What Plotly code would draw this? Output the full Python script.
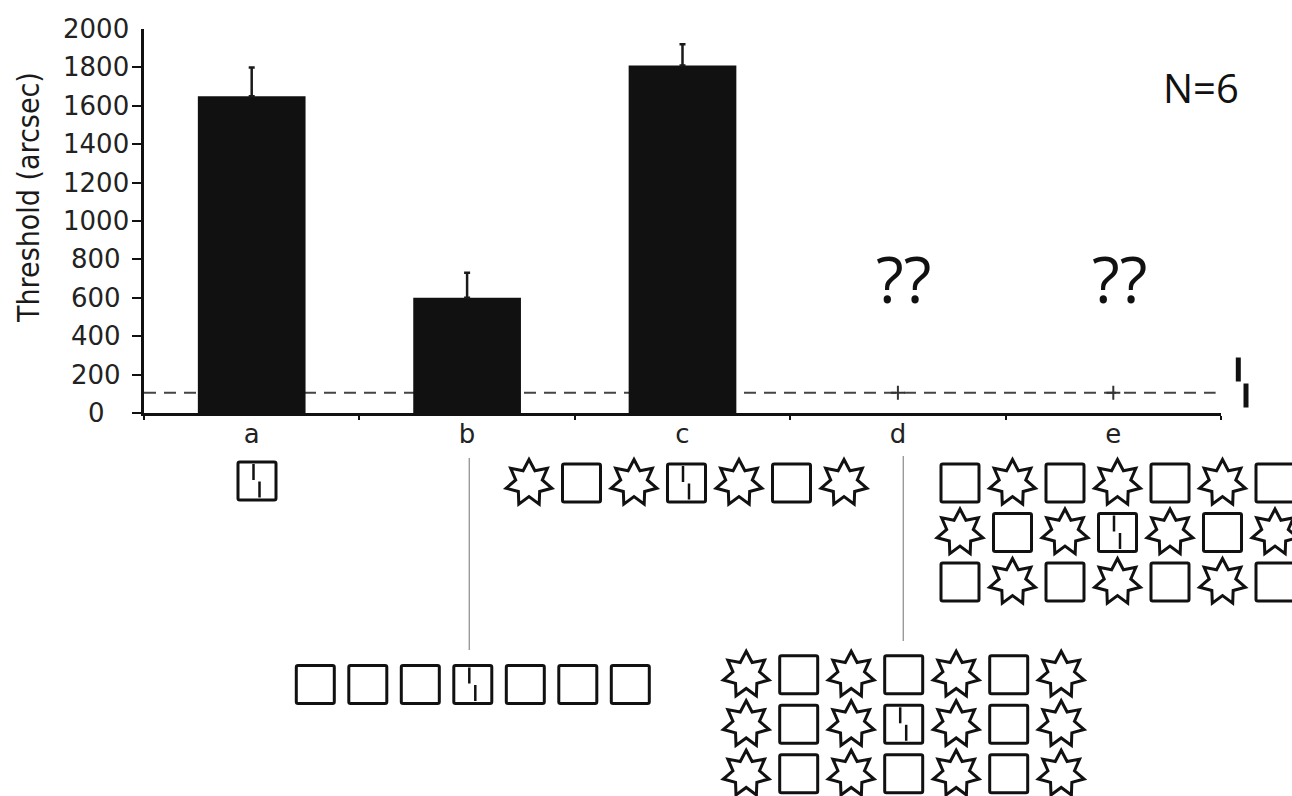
import plotly.graph_objects as go
import math

# ---- data -------------------------------------------------------------
categories = ["a", "b", "c", "d", "e"]
threshold = [1650, 600, 1810, None, None]        # arcsec
threshold_err = [150, 130, 110, None, None]      # upper error (arcsec)
untested = ["d", "e"]
reference_level = 105                            # vernier alone, dashed line
y_tick_values = [0, 200, 400, 600, 800, 1000, 1200, 1400, 1600, 1800, 2000]
y_tick_marks = y_tick_values[:-1]

# ---- figure geometry (pixels) ------------------------------------------
W, H = 1292, 796
ML, MR, MT, MB = 144, 71, 29, 383
PW = W - ML - MR
PH = H - MT - MB
INK = "#111111"


def paper(x, y):
    """pixel position -> paper coordinates"""
    return (x - ML) / PW, (H - MB - y) / PH


def path_from(points, closed=True):
    parts = []
    for i, (x, y) in enumerate(points):
        px, py = paper(x, y)
        parts.append(("M" if i == 0 else "L") + f"{px:.5f},{py:.5f}")
    return " ".join(parts) + (" Z" if closed else "")


def square_shape(cx, cy, s=38, r=1.8):
    h = s / 2
    x0, x1, y0, y1 = cx - h, cx + h, cy - h, cy + h

    def p(x, y):
        a, b = paper(x, y)
        return f"{a:.5f},{b:.5f}"

    d = (f"M{p(x0 + r, y0)} L{p(x1 - r, y0)} Q{p(x1, y0)} {p(x1, y0 + r)} "
         f"L{p(x1, y1 - r)} Q{p(x1, y1)} {p(x1 - r, y1)} L{p(x0 + r, y1)} "
         f"Q{p(x0, y1)} {p(x0, y1 - r)} L{p(x0, y0 + r)} Q{p(x0, y0)} {p(x0 + r, y0)} Z")
    return dict(type="path", xref="paper", yref="paper", path=d,
                line=dict(color=INK, width=3), fillcolor="rgba(0,0,0,0)")


def star_shape(cx, cy, R=23.5, ratio=0.58):
    pts = []
    for k in range(14):
        ang = -math.pi / 2 + k * math.pi / 7
        rr = R if k % 2 == 0 else R * ratio
        pts.append((cx + rr * math.cos(ang), cy + rr * math.sin(ang)))
    return dict(type="path", xref="paper", yref="paper", path=path_from(pts),
                line=dict(color=INK, width=3), fillcolor="white")


def seg(x0, y0, x1, y1, width, color=INK):
    a0, b0 = paper(x0, y0)
    a1, b1 = paper(x1, y1)
    return dict(type="line", xref="paper", yref="paper", x0=a0, y0=b0,
                x1=a1, y1=b1, line=dict(color=color, width=width))


def vernier_square(cx, cy):
    return [square_shape(cx, cy),
            seg(cx - 3.5, cy - 17, cx - 3.5, cy - 1, 2.5),
            seg(cx + 2.5, cy + 0.5, cx + 2.5, cy + 16.5, 2.5)]


def element(kind, cx, cy):
    if kind == "S":
        return [square_shape(cx, cy)]
    if kind == "*":
        return [star_shape(cx, cy)]
    return vernier_square(cx, cy)


def icon_grid(rows, cx, cy, pitch_x=52.5, pitch_y=49.5):
    shapes = []
    nr = len(rows)
    for r, row in enumerate(rows):
        nc = len(row)
        for c, kind in enumerate(row):
            x = cx + (c - (nc - 1) / 2) * pitch_x
            y = cy + (r - (nr - 1) / 2) * pitch_y
            shapes += element(kind, x, y)
    return shapes


# ---- chart --------------------------------------------------------------
fig = go.Figure()

fig.add_bar(
    x=categories, y=threshold, width=0.5,
    marker=dict(color=INK, line=dict(width=0)),
    error_y=dict(type="data", symmetric=False, array=threshold_err,
                 arrayminus=[0, 0, 0, None, None],
                 color="#1a1a1a", thickness=2.5, width=3),
    showlegend=False,
)

fig.add_scatter(
    x=untested, y=[reference_level] * len(untested), mode="markers",
    marker=dict(symbol="cross-thin", size=10, line=dict(width=2, color="#333333")),
    showlegend=False, cliponaxis=False,
)

shapes = [
    dict(type="line", xref="paper", yref="y", x0=0, x1=0.995,
         y0=reference_level, y1=reference_level, layer="below",
         line=dict(color="#444444", width=2, dash="12px,8px")),
]

# stimulus sketches under each condition
shapes += vernier_square(257, 481)
shapes += icon_grid(["SSSVSSS"], 472.8, 684.5)
shapes += icon_grid(["*S*V*S*"], 686.5, 483)
shapes += icon_grid(["*S*S*S*", "*S*V*S*", "*S*S*S*"], 903.7, 724.3)
shapes += icon_grid(["S*S*S*S", "*S*V*S*", "S*S*S*S"], 1117.5, 532.5)

# connectors from the axis labels down to their sketches
shapes.append(seg(469.3, 458, 469.3, 650, 1.4, "#9a9a9a"))
shapes.append(seg(903.3, 456, 903.3, 641, 1.4, "#9a9a9a"))

# vernier glyph at the level of the dashed line
for x0, y0, y1 in [(1238.3, 357.5, 381.5), (1246.0, 383.5, 407.5)]:
    a0, b0 = paper(x0 - 2.5, y0)
    a1, b1 = paper(x0 + 2.5, y1)
    shapes.append(dict(type="rect", xref="paper", yref="paper", x0=a0, x1=a1,
                       y0=b0, y1=b1, line=dict(width=0), fillcolor=INK))

annotations = []
for v in y_tick_values:
    annotations.append(dict(
        x=0, xref="paper", xshift=-48, y=v, yref="y", text=str(v),
        showarrow=False, xanchor="center", yanchor="middle",
        font=dict(family="DejaVu Sans", size=26, color="#222222")))

tx, ty = paper(28, 198)
annotations.append(dict(
    x=tx, y=ty, xref="paper", yref="paper", text="Threshold (arcsec)",
    textangle=-90, showarrow=False, xanchor="center", yanchor="middle",
    font=dict(family="DejaVu Sans Condensed, DejaVu Sans", size=30, color="#1a1a1a")))

for c in untested:
    annotations.append(dict(
        x=c, xref="x", y=700, yref="y", text="??", showarrow=False,
        xanchor="center", yanchor="middle", xshift=6,
        font=dict(family="Open Sans", size=64, color=INK)))

nx, ny = paper(1201, 87.5)
annotations.append(dict(
    x=nx, y=ny, xref="paper", yref="paper", text="N=6", showarrow=False,
    xanchor="center", yanchor="middle",
    font=dict(family="Open Sans", size=40, color=INK)))

fig.update_layout(
    width=W, height=H,
    margin=dict(l=ML, r=MR, t=MT, b=MB, pad=0),
    paper_bgcolor="white", plot_bgcolor="white",
    shapes=shapes, annotations=annotations,
    bargap=0.5,
    xaxis=dict(type="category", range=[-0.5, 4.5], showline=True,
               linecolor=INK, linewidth=2.5, ticks="outside",
               tickson="boundaries", ticklen=4, tickwidth=2, tickcolor=INK,
               ticklabelstandoff=-4,
               tickfont=dict(family="DejaVu Sans", size=26, color="#222222"),
               showgrid=False, zeroline=False),
    yaxis=dict(range=[0, 2000], showline=True, linecolor=INK, linewidth=2.5,
               ticks="outside", ticklen=9, tickwidth=2, tickcolor=INK,
               tickvals=y_tick_marks, showticklabels=False,
               showgrid=False, zeroline=False),
)

fig.write_html("out.html")
